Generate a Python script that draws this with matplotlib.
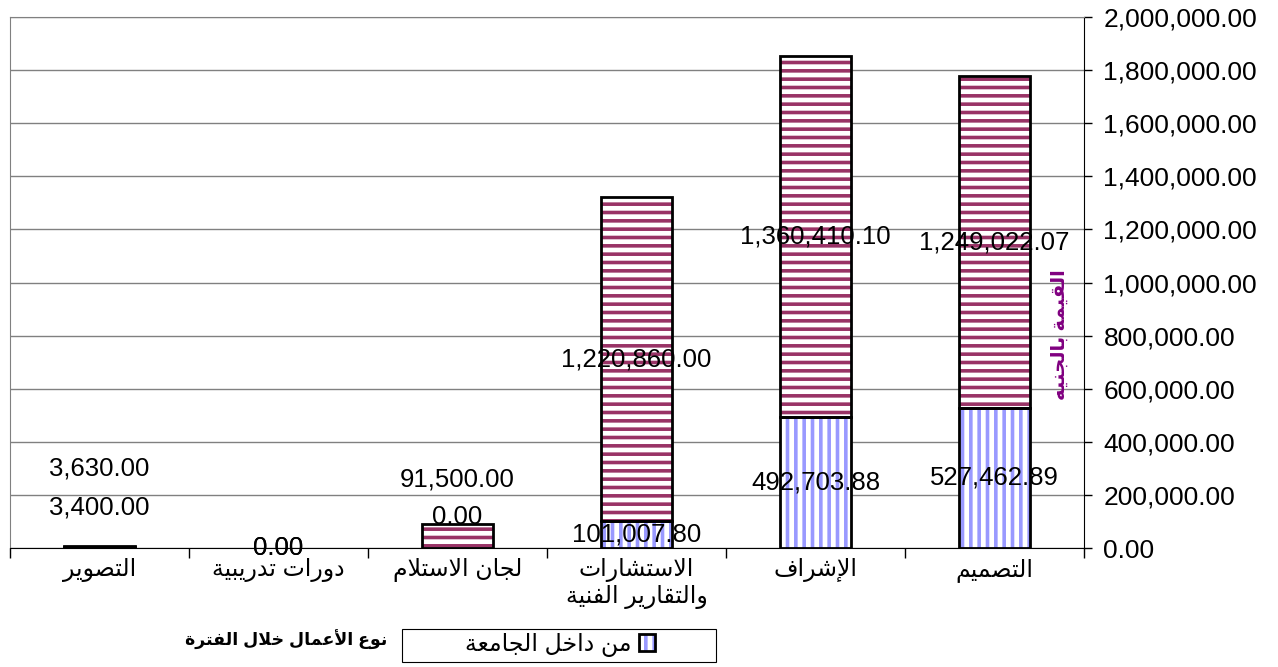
import numpy as np
import matplotlib
matplotlib.use("Agg")
import matplotlib.pyplot as plt
from matplotlib.patches import Rectangle
from matplotlib.ticker import FuncFormatter

# ==== Data ====
categories = ['التصميم', 'الإشراف', 'الاستشارات\nوالتقارير الفنية',
              'لجان الاستلام', 'دورات تدريبية', 'التصوير']
inside_uni = [527462.89, 492703.88, 101007.80, 0.00, 0.00, 3400.00]
outside_uni = [1249022.07, 1360410.10, 1220860.00, 91500.00, 0.00, 3630.00]
legend_label = 'من داخل الجامعة'
x_title = 'نوع الأعمال خلال الفترة'
y_title = 'القيمة بالجنيه'

# ==== Minimal Arabic shaping (no bidi lib available) ====
# forms: isolated, final, initial, medial
FORMS = {
    'ا': ('\uFE8D', '\uFE8E'), 'أ': ('\uFE83', '\uFE84'), 'إ': ('\uFE87', '\uFE88'),
    'ب': ('\uFE8F', '\uFE90', '\uFE91', '\uFE92'), 'ة': ('\uFE93', '\uFE94'),
    'ت': ('\uFE95', '\uFE96', '\uFE97', '\uFE98'), 'ج': ('\uFE9D', '\uFE9E', '\uFE9F', '\uFEA0'),
    'خ': ('\uFEA5', '\uFEA6', '\uFEA7', '\uFEA8'), 'د': ('\uFEA9', '\uFEAA'),
    'ر': ('\uFEAD', '\uFEAE'), 'س': ('\uFEB1', '\uFEB2', '\uFEB3', '\uFEB4'),
    'ش': ('\uFEB5', '\uFEB6', '\uFEB7', '\uFEB8'), 'ص': ('\uFEB9', '\uFEBA', '\uFEBB', '\uFEBC'),
    'ع': ('\uFEC9', '\uFECA', '\uFECB', '\uFECC'), 'ف': ('\uFED1', '\uFED2', '\uFED3', '\uFED4'),
    'ق': ('\uFED5', '\uFED6', '\uFED7', '\uFED8'), 'ل': ('\uFEDD', '\uFEDE', '\uFEDF', '\uFEE0'),
    'م': ('\uFEE1', '\uFEE2', '\uFEE3', '\uFEE4'), 'ن': ('\uFEE5', '\uFEE6', '\uFEE7', '\uFEE8'),
    'ه': ('\uFEE9', '\uFEEA', '\uFEEB', '\uFEEC'), 'و': ('\uFEED', '\uFEEE'),
    'ي': ('\uFEF1', '\uFEF2', '\uFEF3', '\uFEF4'),
    '\uFEFB': ('\uFEFB', '\uFEFC'), '\uFEF7': ('\uFEF7', '\uFEF8'), '\uFEF9': ('\uFEF9', '\uFEFA'),
}
LIGATURES = {'لا': '\uFEFB', 'لأ': '\uFEF7', 'لإ': '\uFEF9'}


def shape(text):
    lines = []
    for line in text.split('\n'):
        for k, v in LIGATURES.items():
            line = line.replace(k, v)
        out = []
        for i, c in enumerate(line):
            if c not in FORMS:
                out.append(c)
                continue
            prev = line[i - 1] if i > 0 else ''
            nxt = line[i + 1] if i + 1 < len(line) else ''
            jp = prev in FORMS and len(FORMS[prev]) == 4
            jn = len(FORMS[c]) == 4 and nxt in FORMS
            idx = 3 if (jp and jn) else 1 if jp else 2 if jn else 0
            out.append(FORMS[c][idx])
        lines.append(''.join(reversed(out)))
    return '\n'.join(lines)


plt.rcParams['font.family'] = ['Liberation Sans', 'DejaVu Sans']
plt.rcParams['hatch.linewidth'] = 2.6

BLUE = '#9999FF'
MAROON = '#993366'

fig = plt.figure(figsize=(12.78, 6.67), dpi=100)
ax = fig.add_axes([10 / 1278, 1 - 548 / 667, 1074 / 1278, 531 / 667])

x = np.arange(len(categories))
w = 0.4
inside = np.array(inside_uni)
outside = np.array(outside_uni)

# hatched fills, then black outlines on top (no outline for empty segments)
b_in = ax.bar(x, inside, w, color='white', edgecolor=BLUE, hatch='||', linewidth=0, zorder=2)
ax.bar(x, outside, w, bottom=inside, color='white', edgecolor=MAROON, hatch='--', linewidth=0, zorder=2)
f_in = ax.bar(x, inside, w, fill=False, edgecolor='black', linewidth=2, zorder=3)
f_out = ax.bar(x, outside, w, bottom=inside, fill=False, edgecolor='black', linewidth=2, zorder=3)
for bars, vals in ((f_in, inside), (f_out, outside)):
    for p, v in zip(bars, vals):
        if v == 0:
            p.set_linewidth(0)

# data labels (small segments were nudged up in the original)
lift_in = [0, 0, 0, 31, 0, 40]
lift_out = [0, 0, 0, 56, 0, 78]
for i in range(len(x)):
    ax.annotate(f'{inside[i]:,.2f}', (x[i], inside[i] / 2), xytext=(0, lift_in[i]),
                textcoords='offset pixels', ha='center', va='center', fontsize=18.5, zorder=5)
    ax.annotate(f'{outside[i]:,.2f}', (x[i], inside[i] + outside[i] / 2), xytext=(0, lift_out[i]),
                textcoords='offset pixels', ha='center', va='center', fontsize=18.5, zorder=5)

# ==== Axes styling ====
ax.set_xlim(-0.5, len(x) - 0.5)
ax.invert_xaxis()
ax.set_xticks(np.arange(len(x) + 1) - 0.5)
ax.set_xticklabels([])
ax.set_xticks(x, minor=True)
ax.set_xticklabels([shape(c) for c in categories], minor=True, fontsize=17)
ax.tick_params(axis='x', which='major', length=7, width=1, direction='out')
ax.tick_params(axis='x', which='minor', length=0, pad=7)

ax.set_ylim(0, 2000000)
ax.set_yticks(np.arange(0, 2000001, 200000))
ax.yaxis.set_major_formatter(FuncFormatter(lambda v, p: f'{v:,.2f}'))
ax.yaxis.tick_right()
ax.tick_params(axis='y', length=6, width=1, direction='out', labelsize=19, pad=8)

ax.yaxis.grid(True, color='#808080', linewidth=1)
ax.set_axisbelow(True)
for s in ['left', 'top']:
    ax.spines[s].set_color('#808080')
for s in ['right', 'bottom']:
    ax.spines[s].set_color('black')

# y title inside plot area, purple
fig.text(1060 / 1278, 1 - 335 / 667, shape(y_title), rotation=90, color='#800080',
         fontweight='bold', fontsize=14, ha='center', va='center')

# x title
fig.text(286 / 1278, 1 - 640 / 667, shape(x_title), fontweight='bold', fontsize=12.5,
         ha='center', va='center')

# legend (one entry)
fig.legend([(b_in[0], f_in[0])], [shape(legend_label)], loc='center',
           bbox_to_anchor=(560 / 1278, 1 - 645 / 667), frameon=False, markerfirst=False,
           fontsize=17, handlelength=0.7, handleheight=0.7, handletextpad=0.3)
fig.patches.append(Rectangle((402 / 1278, 1 - 662 / 667), 314 / 1278, 33 / 667,
                             transform=fig.transFigure, fill=False, edgecolor='black',
                             linewidth=0.8))

fig.savefig('out.png', dpi=100)
